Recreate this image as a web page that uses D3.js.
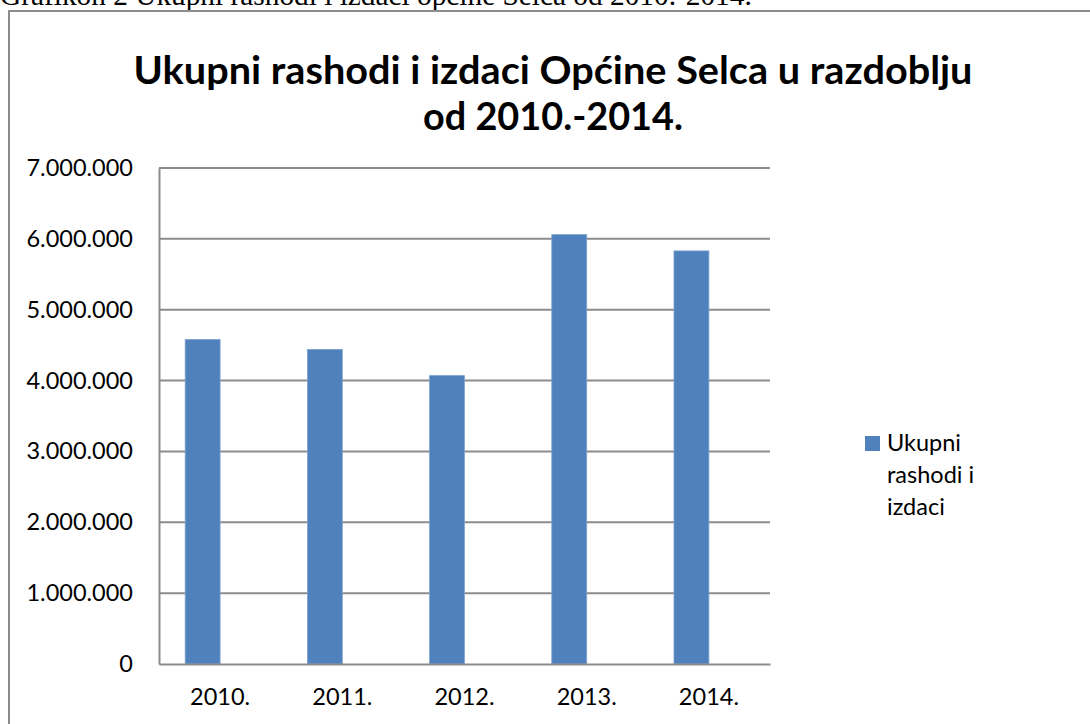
<!DOCTYPE html>
<html>
<head>
<meta charset="utf-8">
<script src="https://cdn.jsdelivr.net/npm/d3@7"></script>
<style>
  body { margin: 0; background: #fff; }
  svg { display: block; }
</style>
</head>
<body>
<svg id="chart" width="1090" height="724"></svg>
<script>
// Values
const years = ["2010.", "2011.", "2012.", "2013.", "2014."];
const seriesNames = ["Ukupni rashodi i izdaci", "(prazno)"];
const rashodi = [4580000, 4440000, 4070000, 6060000, 5830000];
const yTicks = [0, 1000000, 2000000, 3000000, 4000000, 5000000, 6000000, 7000000];
const titleLines = ["Ukupni rashodi i izdaci Općine Selca u razdoblju", "od 2010.-2014."];
const legendLines = ["Ukupni", "rashodi i", "izdaci"];
const caption = "Grafikon 2 Ukupni rashodi i izdaci općine Selca od 2010.-2014.";

const svg = d3.select("#chart");
const sans = "Lato, 'Open Sans', sans-serif";

// scale font size so text fills a measured width
function fitWidth(sel, target) {
  const w = sel.node().getComputedTextLength();
  const fs = parseFloat(sel.attr("font-size"));
  sel.attr("font-size", fs * target / w);
}

// caption above the chart frame (cut at the top, as in the source)
const cap = svg.append("text")
  .attr("x", 0).attr("y", 5)
  .attr("font-family", "'Liberation Serif', 'DejaVu Serif', serif")
  .attr("font-size", 22)
  .attr("fill", "#000")
  .text(caption);
fitWidth(cap, 752);

// chart frame, runs off the right and bottom edges
svg.append("rect")
  .attr("x", 9).attr("y", 11)
  .attr("width", 1200).attr("height", 800)
  .attr("fill", "none")
  .attr("stroke", "#8c8c8c")
  .attr("stroke-width", 2);

// title, squeezed a little to get the narrow Calibri look
const titleWidths = [839, 260];
titleLines.forEach((t, i) => {
  svg.append("text")
    .attr("x", 553).attr("y", 84 + i * 46)
    .attr("text-anchor", "middle")
    .attr("font-family", sans)
    .attr("font-weight", "bold")
    .attr("font-size", 39)
    .attr("textLength", titleWidths[i])
    .attr("lengthAdjust", "spacingAndGlyphs")
    .text(t);
});

const margin = { top: 168, left: 159, right: 770, bottom: 664 };

const x = d3.scaleBand()
  .domain(years)
  .range([margin.left, margin.right])
  .paddingInner(0).paddingOuter(0);

// two series slots per category, the second one is empty
const xs = d3.scaleBand()
  .domain(seriesNames)
  .range([0, x.bandwidth()])
  .paddingInner(0)
  .paddingOuter(0.75);

const y = d3.scaleLinear()
  .domain([0, 7000000])
  .range([margin.bottom, margin.top]);

const fmt = d => d3.format(",")(d).replace(/,/g, ".");

// gridlines
svg.append("g")
  .selectAll("line")
  .data(yTicks.slice(1))
  .join("line")
  .attr("x1", margin.left).attr("x2", margin.right)
  .attr("y1", d => y(d)).attr("y2", d => y(d))
  .attr("stroke", "#8c8c8c")
  .attr("stroke-width", 2);

// bars
svg.append("g")
  .selectAll("rect")
  .data(rashodi)
  .join("rect")
  .attr("x", (d, i) => x(years[i]) + xs(seriesNames[0]))
  .attr("y", d => y(d))
  .attr("width", xs.bandwidth())
  .attr("height", d => y(0) - y(d))
  .attr("fill", "#4f81bd")
  .attr("stroke", "#7ea2cf")
  .attr("stroke-width", 0.8);

// y axis
const yAxis = svg.append("g")
  .attr("transform", `translate(${margin.left},0)`)
  .call(d3.axisLeft(y).tickValues(yTicks).tickFormat(fmt).tickSize(0).tickPadding(26));
yAxis.select(".domain").attr("stroke", "#8c8c8c").attr("stroke-width", 2);
yAxis.selectAll("text")
  .attr("font-family", sans)
  .attr("font-size", 23.5)
  .attr("fill", "#000");

// x axis
const xAxis = svg.append("g")
  .attr("transform", `translate(0,${margin.bottom})`)
  .call(d3.axisBottom(x).tickSize(0).tickPadding(24));
xAxis.select(".domain").attr("stroke", "#8c8c8c").attr("stroke-width", 2);
xAxis.selectAll("text")
  .attr("font-family", sans)
  .attr("font-size", 23.5)
  .attr("fill", "#000");

// legend
const legend = svg.append("g").attr("transform", "translate(865,436)");
legend.append("rect")
  .attr("width", 15).attr("height", 15)
  .attr("fill", "#4f81bd");
legend.selectAll("text")
  .data(legendLines)
  .join("text")
  .attr("x", 22)
  .attr("y", (d, i) => 15 + i * 32)
  .attr("font-family", sans)
  .attr("font-size", 23.5)
  .text(d => d);
</script>
</body>
</html>
